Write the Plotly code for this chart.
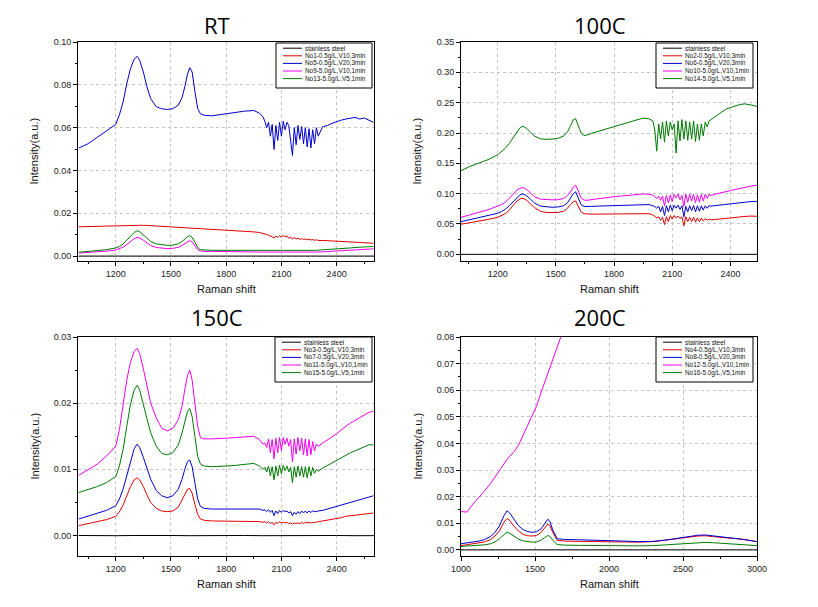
import plotly.graph_objects as go

# ---------------- DATA ----------------
# shared Raman-shift grid for RT / 100C / 150C panels
X_A = [1000, 1050, 1100, 1150, 1200, 1220, 1240, 1260, 1280, 1300,
       1316, 1330, 1350, 1370, 1390, 1420, 1450, 1480, 1510, 1540,
       1560, 1575, 1590, 1602, 1615, 1630, 1645, 1660, 1680, 1720,
       1760, 1800, 1850, 1900, 1950, 1980, 2000,
       2010, 2020, 2030, 2040, 2050, 2060, 2070, 2080, 2090, 2100,
       2110, 2120, 2130, 2140, 2150, 2160, 2170, 2180, 2190, 2200,
       2210, 2220, 2230, 2240, 2250, 2260, 2270, 2280, 2290, 2300,
       2325, 2350, 2375, 2400, 2425, 2450, 2475, 2500, 2525, 2550, 2575, 2600]

X_STEEL = [1000, 1100, 1200, 1300, 1400, 1500, 1600, 1700, 1800, 1900,
           2000, 2100, 2200, 2300, 2400, 2500, 2600, 2700, 2800, 2900, 3000]

# ---- RT ----
RT_STEEL = [0.0000, 0.0000, 0.0000, 0.0000, 0.0000, 0.0000, 0.0000, 0.0000, 0.0000, 0.0000,
            0.0000, 0.0000, 0.0000, 0.0000, 0.0000, 0.0000, 0.0000, 0.0000, 0.0000, 0.0000, 0.0000]
RT_NO1 = [.0137, .0138, .0139, .0140, .0141, .0142, .0143, .0144, .0145, .0145,
          .0145, .0145, .0144, .0143, .0142, .0141, .0140, .0138, .0137, .0135,
          .0134, .0133, .0133, .0132, .0132, .0131, .0130, .0130, .0129, .0127,
          .0125, .0122, .0120, .0117, .0113, .0110, .0107,
          .0104, .0101, .0098, .0094, .0090, .0085, .0093, .0087, .0095, .0088,
          .0096, .0090, .0094, .0083, .0089, .0079, .0087, .0080, .0084, .0078,
          .0082, .0077, .0080, .0076, .0079, .0075, .0077, .0074, .0076, .0073,
          .0073, .0072, .0071, .0070, .0069, .0068, .0066, .0064, .0063, .0062, .0061, .0060]
RT_NO5 = [.0505, .0525, .0555, .0585, .0615, .0660, .0720, .0805, .0875, .0920,
          .0933, .0915, .0860, .0790, .0735, .0698, .0688, .0685, .0688, .0705,
          .0740, .0790, .0850, .0880, .0860, .0770, .0690, .0665, .0658, .0655,
          .0660, .0667, .0672, .0677, .0680, .0668, .0650,
          .0630, .0600, .0625, .0560, .0615, .0498, .0610, .0540, .0625, .0560,
          .0630, .0590, .0625, .0610, .0540, .0470, .0600, .0520, .0610, .0545,
          .0605, .0525, .0600, .0510, .0595, .0505, .0590, .0525, .0600, .0560,
          .0605, .0610, .0620, .0628, .0635, .0640, .0645, .0648, .0640, .0645, .0635, .0625]
RT_NO9 = [.0014, .0016, .0019, .0023, .0028, .0034, .0042, .0054, .0068, .0081,
          .0087, .0084, .0074, .0061, .0049, .0040, .0036, .0035, .0036, .0041,
          .0050, .0059, .0068, .0072, .0066, .0048, .0030, .0024, .0022, .0022,
          .0021, .0021, .0020, .0020, .0019, .0019, .0019,
          .0019, .0018, .0019, .0018, .0019, .0017, .0018, .0019, .0018, .0017,
          .0018, .0019, .0017, .0018, .0017, .0016, .0018, .0017, .0018, .0017,
          .0018, .0017, .0018, .0017, .0018, .0018, .0019, .0018, .0019, .0019,
          .0020, .0021, .0022, .0024, .0026, .0028, .0029, .0030, .0031, .0032, .0033, .0034]
RT_NO13 = [.0018, .0021, .0025, .0030, .0038, .0045, .0056, .0072, .0092, .0110,
           .0118, .0114, .0100, .0083, .0068, .0057, .0052, .0050, .0051, .0057,
           .0068, .0080, .0091, .0095, .0088, .0065, .0040, .0030, .0028, .0027,
           .0027, .0027, .0027, .0027, .0027, .0027, .0026,
           .0026, .0025, .0026, .0024, .0026, .0025, .0026, .0024, .0025, .0026,
           .0024, .0025, .0026, .0024, .0025, .0024, .0026, .0025, .0024, .0025,
           .0026, .0025, .0026, .0025, .0026, .0027, .0026, .0027, .0027, .0028,
           .0029, .0030, .0031, .0032, .0034, .0036, .0038, .0040, .0042, .0043, .0044, .0045]

# ---- 100C ----
C100_STEEL = [0.0000, 0.0000, 0.0000, 0.0000, 0.0000, 0.0000, 0.0000, 0.0000, 0.0000, 0.0000,
              0.0000, 0.0000, 0.0000, 0.0000, 0.0000, 0.0000, 0.0000, 0.0000, 0.0000, 0.0000, 0.0000]
C100_NO2 = [.0490, .0515, .0545, .0575, .0610, .0635, .0670, .0730, .0800, .0880,
            .0915, .0925, .0890, .0830, .0770, .0710, .0690, .0688, .0690, .0710,
            .0760, .0820, .0870, .0880, .0800, .0700, .0670, .0662, .0662, .0663,
            .0664, .0665, .0670, .0675, .0680, .0670, .0650,
            .0630, .0600, .0620, .0560, .0610, .0490, .0620, .0540, .0640, .0580,
            .0640, .0600, .0630, .0590, .0620, .0470, .0620, .0540, .0610, .0540,
            .0610, .0530, .0600, .0540, .0600, .0550, .0590, .0560, .0580, .0570,
            .0575, .0585, .0595, .0605, .0612, .0620, .0625, .0630, .0630, .0628, .0625, .0622]
C100_NO6 = [.0530, .0565, .0600, .0635, .0677, .0705, .0745, .0800, .0870, .0940,
            .0985, .0996, .0965, .0905, .0845, .0795, .0780, .0776, .0780, .0800,
            .0850, .0920, .1000, .1030, .0940, .0820, .0790, .0787, .0790, .0795,
            .0800, .0805, .0812, .0820, .0828, .0820, .0800,
            .0790, .0760, .0795, .0700, .0790, .0640, .0800, .0700, .0810, .0720,
            .0810, .0760, .0810, .0740, .0800, .0620, .0790, .0700, .0800, .0720,
            .0805, .0700, .0800, .0710, .0800, .0730, .0800, .0760, .0800, .0795,
            .0805, .0815, .0825, .0835, .0845, .0855, .0862, .0868, .0872, .0870, .0868, .0866]
C100_NO10 = [.0600, .0650, .0690, .0735, .0790, .0820, .0860, .0920, .0990, .1060,
             .1090, .1100, .1070, .1010, .0950, .0910, .0900, .0898, .0900, .0920,
             .0970, .1030, .1110, .1140, .1050, .0930, .0895, .0890, .0900, .0920,
             .0935, .0950, .0965, .0980, .0995, .0990, .0975,
             .0950, .0920, .0960, .0890, .0960, .0800, .0970, .0850, .0980, .0870,
             .0990, .0930, .0990, .0900, .0970, .0790, .0990, .0860, .0990, .0880,
             .0990, .0850, .0980, .0860, .0990, .0880, .0990, .0920, .0990, .0970,
             .0995, .1010, .1030, .1050, .1070, .1090, .1105, .1120, .1135, .1140, .1140, .1140]
C100_NO14 = [.1360, .1440, .1500, .1560, .1640, .1690, .1750, .1830, .1930, .2030,
             .2090, .2110, .2075, .2010, .1950, .1905, .1895, .1900, .1910, .1950,
             .2020, .2110, .2220, .2235, .2120, .2000, .1960, .1965, .1990, .2030,
             .2070, .2110, .2150, .2200, .2245, .2235, .2200,
             .2050, .1700, .2150, .1900, .2180, .1850, .2200, .1950, .2180, .2050,
             .2150, .1670, .2200, .1870, .2220, .1900, .2200, .1880, .2180, .1900,
             .2200, .1860, .2150, .1880, .2150, .1950, .2180, .2100, .2200, .2220,
             .2280, .2340, .2390, .2420, .2450, .2470, .2480, .2470, .2450, .2420, .2400, .2390]

# ---- 150C ----
C150_STEEL = [0.00000, 0.00004, -0.00003, 0.00000, 0.00004, 0.00000, -0.00003, 0.00000, 0.00004, 0.00000,
              -0.00003, 0.00000, 0.00004, 0.00000, 0.00000, -0.00003, 0.00000, 0.00000, 0.00000, 0.00000, 0.00000]
C150_NO3 = [.0015, .0018, .0021, .0024, .0029, .0036, .0046, .0060, .0074, .0084,
            .0087, .0084, .0074, .0061, .0050, .0041, .0037, .0036, .0037, .0043,
            .0054, .0063, .0070, .0071, .0064, .0047, .0032, .0025, .0023, .0022,
            .0022, .0022, .0022, .0022, .0022, .0021, .0020,
            .0021, .0019, .0021, .0018, .0020, .0016, .0020, .0018, .0021, .0019,
            .0020, .0019, .0020, .0018, .0019, .0017, .0019, .0018, .0019, .0018,
            .0020, .0018, .0020, .0019, .0020, .0019, .0020, .0020, .0020, .0021,
            .0022, .0023, .0024, .0025, .0027, .0029, .0030, .0031, .0032, .0033, .0034, .0034]
C150_NO7 = [.0025, .0029, .0033, .0038, .0045, .0055, .0070, .0090, .0113, .0131,
            .0138, .0133, .0118, .0100, .0085, .0068, .0060, .0057, .0060, .0070,
            .0085, .0100, .0112, .0114, .0104, .0080, .0055, .0044, .0041, .0040,
            .0040, .0040, .0040, .0041, .0041, .0040, .0038,
            .0039, .0036, .0039, .0035, .0038, .0030, .0037, .0033, .0038, .0035,
            .0038, .0036, .0037, .0034, .0036, .0030, .0035, .0032, .0036, .0033,
            .0037, .0034, .0037, .0034, .0037, .0035, .0037, .0036, .0037, .0037,
            .0038, .0040, .0042, .0044, .0046, .0048, .0050, .0052, .0054, .0056, .0058, .0060]
C150_NO11 = [.0091, .0099, .0108, .0120, .0135, .0160, .0198, .0235, .0262, .0278,
             .0283, .0275, .0252, .0225, .0200, .0178, .0162, .0158, .0162, .0175,
             .0195, .0220, .0242, .0250, .0235, .0200, .0165, .0148, .0146, .0146,
             .0146, .0147, .0148, .0149, .0150, .0145, .0138,
             .0140, .0133, .0146, .0125, .0145, .0116, .0147, .0125, .0148, .0128,
             .0148, .0138, .0147, .0135, .0145, .0111, .0146, .0123, .0148, .0128,
             .0147, .0122, .0146, .0120, .0145, .0122, .0142, .0128, .0138, .0135,
             .0140, .0144, .0149, .0154, .0160, .0165, .0170, .0174, .0178, .0183, .0186, .0188]
C150_NO15 = [.0065, .0069, .0074, .0080, .0089, .0105, .0130, .0165, .0198, .0220,
             .0227, .0220, .0200, .0176, .0155, .0135, .0124, .0122, .0125, .0137,
             .0155, .0172, .0188, .0192, .0180, .0150, .0120, .0108, .0105, .0104,
             .0104, .0105, .0106, .0107, .0109, .0105, .0100,
             .0103, .0096, .0105, .0090, .0104, .0084, .0105, .0090, .0106, .0093,
             .0106, .0098, .0105, .0096, .0103, .0080, .0104, .0088, .0105, .0090,
             .0104, .0088, .0104, .0087, .0104, .0090, .0103, .0094, .0100, .0097,
             .0102, .0106, .0110, .0114, .0118, .0122, .0125, .0128, .0131, .0134, .0137, .0137]

# ---- 200C ----
X_D = [1000, 1040, 1080, 1120, 1160, 1200, 1230, 1260, 1290, 1311,
       1330, 1360, 1390, 1420, 1450, 1480, 1510, 1540, 1565, 1586,
       1600, 1620, 1650, 1700, 1800, 1900, 2000, 2100, 2200, 2300,
       2400, 2500, 2600, 2650, 2700, 2800, 2900, 3000]
C200_STEEL = [0.0000, 0.0000, 0.0000, 0.0000, 0.0000, 0.0000, 0.0000, 0.0000, 0.0000, 0.0000,
              0.0000, 0.0000, 0.0000, 0.0000, 0.0000, 0.0000, 0.0000, 0.0000, 0.0000, 0.0000, 0.0000]
C200_NO4 = [.0016, .0019, .0022, .0025, .0030, .0039, .0052, .0072, .0104, .0118,
            .0110, .0088, .0070, .0058, .0053, .0052, .0054, .0065, .0083, .0097,
            .0092, .0066, .0036, .0033, .0032, .0031, .0031, .0030, .0029, .0031,
            .0037, .0045, .0052, .0053, .0050, .0045, .0040, .0031]
C200_NO8 = [.0023, .0026, .0029, .0033, .0039, .0050, .0066, .0090, .0128, .0147,
            .0138, .0112, .0090, .0076, .0069, .0066, .0068, .0078, .0098, .0115,
            .0108, .0075, .0042, .0039, .0038, .0037, .0035, .0033, .0031, .0032,
            .0038, .0047, .0055, .0056, .0053, .0046, .0040, .0031]
C200_NO12 = [.0144, .0142, .0172, .0195, .0222, .0250, .0275, .0300, .0325, .0340,
             .0352, .0370, .0395, .0430, .0465, .0500, .0540, .0590, .0630, .0665,
             .0690, .0720, .0770, .0840, .0980]
C200_NO16 = [.0013, .0014, .0015, .0017, .0019, .0023, .0030, .0042, .0059, .0067,
             .0062, .0050, .0040, .0034, .0031, .0029, .0030, .0036, .0046, .0054,
             .0051, .0036, .0020, .0018, .0017, .0016, .0015, .0015, .0015, .0016,
             .0020, .0024, .0028, .0028, .0027, .0024, .0020, .0016]

LABELS_RT = ["stainless steel", "No1-0.5g/L,V10,3min", "No5-0.5g/L,V20,3min",
             "No9-5.0g/L,V10,1min", "No13-5.0g/L,V5,1min"]
LABELS_100 = ["stainless steel", "No2-0.5g/L,V10,3min", "No6-0.5g/L,V20,3min",
              "No10-5.0g/L,V10,1min", "No14-5.0g/L,V5,1min"]
LABELS_150 = ["stainless steel", "No3-0.5g/L,V10,3min", "No7-0.5g/L,V20,3min",
              "No11-5.0g/L,V10,1min", "No15-5.0g/L,V5,1min"]
LABELS_200 = ["stainless steel", "No4-0.5g/L,V10,3min", "No8-0.5g/L,V20,3min",
              "No12-5.0g/L,V10,1min", "No16-5.0g/L,V5,1min"]
TITLES = ["RT", "100C", "150C", "200C"]

# ---------------- STYLE / LAYOUT ----------------
COLORS = ["#000000", "#e00000", "#0000d0", "#f000f0", "#007a00"]
# page body has an 8px margin: make the figure fit inside the 818x607 window
OFF = 8
W, H = 818 - 2 * OFF, 607 - 2 * OFF


def fx(p):
    return (p - OFF) / W


def fy(p):
    return 1 - (p - OFF) / H


panels = [
    dict(sfx="", box=(78, 42, 374, 261), xr=[995, 2603], yr=[-0.0023, 0.10],
         xt0=1200, xd=300, xmin=150, yd=0.02, ymin=0.01, title_x=217, title_y=25,
         legbox=(276, 43, 372, 88), labels=LABELS_RT,
         series=[(X_STEEL, RT_STEEL), (X_A, RT_NO1), (X_A, RT_NO5), (X_A, RT_NO9), (X_A, RT_NO13)]),
    dict(sfx="2", box=(461, 42, 757, 261), xr=[1011, 2537], yr=[-0.011, 0.35],
         xt0=1200, xd=300, xmin=150, yd=0.05, ymin=0.025, title_x=600, title_y=25,
         legbox=(656, 43, 753, 88), labels=LABELS_100,
         series=[(X_STEEL, C100_STEEL), (X_A, C100_NO2), (X_A, C100_NO6), (X_A, C100_NO10), (X_A, C100_NO14)]),
    dict(sfx="3", box=(78, 337, 374, 556), xr=[995, 2603], yr=[-0.0031, 0.03],
         xt0=1200, xd=300, xmin=150, yd=0.01, ymin=0.005, title_x=217, title_y=317,
         legbox=(275, 337, 372, 382), labels=LABELS_150,
         series=[(X_STEEL, C150_STEEL), (X_A, C150_NO3), (X_A, C150_NO7), (X_A, C150_NO11), (X_A, C150_NO15)]),
    dict(sfx="4", box=(461, 337, 757, 556), xr=[1000, 3000], yr=[-0.0023, 0.08],
         xt0=1000, xd=500, xmin=250, yd=0.01, ymin=0.005, title_x=600, title_y=317,
         legbox=(656, 337, 753, 382), labels=LABELS_200,
         series=[(X_STEEL, C200_STEEL), (X_D, C200_NO4), (X_D, C200_NO8), (X_D[:len(C200_NO12)], C200_NO12), (X_D, C200_NO16)]),
]

fig = go.Figure()
annotations = []
shapes = []
TICKFONT = dict(family="Arial, Liberation Sans", size=9, color="#222222")
LABFONT = dict(family="Arial, Liberation Sans", size=11, color="#111111")

layout = dict(width=W, height=H, margin=dict(l=0, r=0, t=0, b=0, autoexpand=False),
              paper_bgcolor="white", plot_bgcolor="white", showlegend=False)

for k, p in enumerate(panels):
    s = p["sfx"]
    x0, y0, x1, y1 = p["box"]
    for (xs, ys), col in zip(p["series"], COLORS):
        fig.add_trace(go.Scatter(x=xs, y=ys, mode="lines", line=dict(color=col, width=1),
                                 xaxis="x" + s, yaxis="y" + s, hoverinfo="skip"))
    common = dict(showline=True, linecolor="black", linewidth=1, mirror=True,
                  ticks="outside", ticklen=4, tickcolor="black", tickfont=TICKFONT,
                  showgrid=True, gridcolor="#c4c4c4", griddash="dot", gridwidth=1,
                  zeroline=False, automargin=False)
    layout["xaxis" + s] = dict(common, domain=[fx(x0), fx(x1)], anchor="y" + s,
                               range=p["xr"], tick0=p["xt0"], dtick=p["xd"],
                               minor=dict(ticks="outside", ticklen=2, tickcolor="black",
                                          tick0=p["xt0"], dtick=p["xmin"], showgrid=False))
    layout["yaxis" + s] = dict(common, domain=[fy(y1), fy(y0)], anchor="x" + s,
                               range=p["yr"], tick0=0, dtick=p["yd"], tickformat=".2f",
                               minor=dict(ticks="outside", ticklen=2, tickcolor="black",
                                          tick0=0, dtick=p["ymin"], showgrid=False))
    # title
    annotations.append(dict(text=TITLES[k], x=fx(p["title_x"]), y=fy(p["title_y"]),
                            xref="paper", yref="paper", showarrow=False,
                            xanchor="center", yanchor="middle",
                            font=dict(family="Open Sans, Noto Sans", size=22, color="black")))
    # axis titles
    annotations.append(dict(text="Raman shift", x=fx((x0 + x1) / 2), y=fy(y1 + 28),
                            xref="paper", yref="paper", showarrow=False,
                            xanchor="center", yanchor="middle", font=LABFONT))
    annotations.append(dict(text="Intensity(a.u.)", x=fx(x0 - 44), y=fy((y0 + y1) / 2),
                            xref="paper", yref="paper", showarrow=False, textangle=-90,
                            xanchor="center", yanchor="middle", font=LABFONT))
    # legend box
    lx0, ly0, lx1, ly1 = p["legbox"]
    shapes.append(dict(type="rect", xref="paper", yref="paper",
                       x0=fx(lx0), x1=fx(lx1), y0=fy(ly1), y1=fy(ly0),
                       line=dict(color="black", width=1), fillcolor="white", layer="above"))
    for i, (lab, col) in enumerate(zip(p["labels"], COLORS)):
        yy = ly0 + 5.2 + 7.6 * i
        shapes.append(dict(type="line", xref="paper", yref="paper",
                           x0=fx(lx0 + 7), x1=fx(lx0 + 26), y0=fy(yy), y1=fy(yy),
                           line=dict(color=col, width=1), layer="above"))
        annotations.append(dict(text=lab, x=fx(lx0 + 27), y=fy(yy), xref="paper", yref="paper",
                                showarrow=False, xanchor="left", yanchor="middle",
                                font=dict(family="Arial, Liberation Sans", size=6.4, color="#111111")))

layout["annotations"] = annotations
layout["shapes"] = shapes
fig.update_layout(**layout)
fig.write_html("out.html")
